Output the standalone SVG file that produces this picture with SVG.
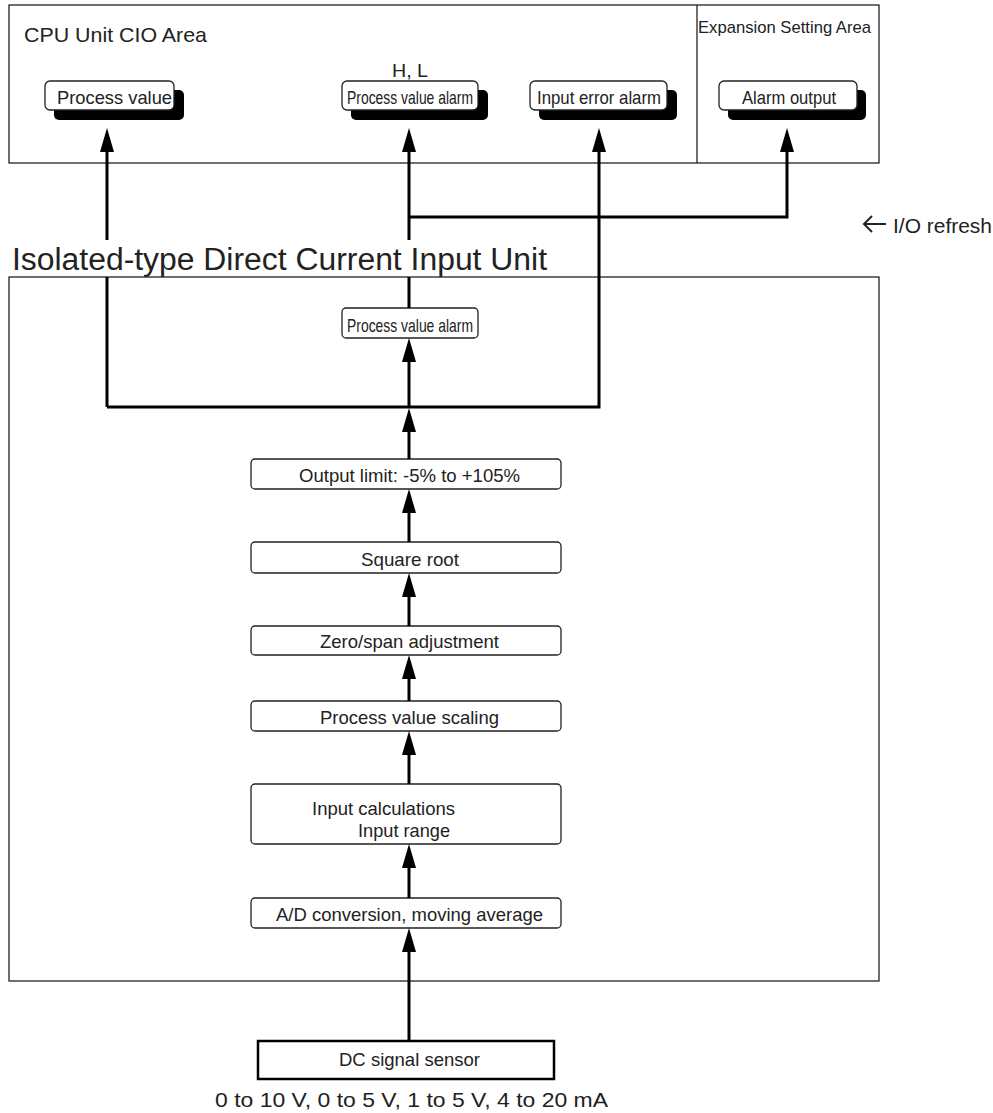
<svg xmlns="http://www.w3.org/2000/svg" width="993" height="1113" viewBox="0 0 993 1113">
<style>
text{font-family:"Liberation Sans",Arial,sans-serif;fill:#222}
.area{fill:none;stroke:#222;stroke-width:1.3}
.box{fill:#fff;stroke:#222;stroke-width:1.3}
.sh{fill:#000}
.ln{fill:none;stroke:#000;stroke-width:3}
.f18{font-size:18.5px}
.mid{text-anchor:middle}
</style>
<defs>
<marker id="ah" viewBox="0 0 24 14" refX="0" refY="7" markerWidth="24" markerHeight="14" markerUnits="userSpaceOnUse" orient="auto">
<path d="M0,0 L24,7 L0,14 z" fill="#000"/>
</marker>
</defs>
<rect width="993" height="1113" fill="#fff"/>
<g id="cpu-area">
<rect class="area" x="9" y="5" width="870" height="158"/>
<line class="area" x1="697" y1="5" x2="697" y2="163"/>
<text x="24" y="42" font-size="21" textLength="183" lengthAdjust="spacingAndGlyphs">CPU Unit CIO Area</text>
<text x="698" y="33" font-size="17" textLength="173" lengthAdjust="spacingAndGlyphs">Expansion Setting Area</text>
<text class="f18" x="392" y="77" textLength="36" lengthAdjust="spacingAndGlyphs">H, L</text>
</g>
<g id="node-pv">
<rect class="sh" x="54" y="90" width="130" height="30" rx="5"/>
<rect class="box" x="45" y="81" width="129" height="29" rx="5"/>
<text class="f18" x="57" y="104" textLength="115" lengthAdjust="spacingAndGlyphs">Process value</text>
</g>
<g id="node-pva-top">
<rect class="sh" x="351" y="90" width="137" height="30" rx="5"/>
<rect class="box" x="342" y="81" width="136" height="29" rx="5"/>
<text class="f18" x="347" y="104" textLength="126" lengthAdjust="spacingAndGlyphs">Process value alarm</text>
</g>
<g id="node-iea">
<rect class="sh" x="539" y="90" width="138" height="30" rx="5"/>
<rect class="box" x="530" y="81" width="137" height="29" rx="5"/>
<text class="f18" x="537" y="104" textLength="124" lengthAdjust="spacingAndGlyphs">Input error alarm</text>
</g>
<g id="node-ao">
<rect class="sh" x="728" y="90" width="138" height="30" rx="5"/>
<rect class="box" x="719" y="81" width="138" height="29" rx="5"/>
<text class="f18" x="742" y="104" textLength="94" lengthAdjust="spacingAndGlyphs">Alarm output</text>
</g>
<g id="io-refresh">
<path d="M886,224 H864 M872,216 L864,224 L872,232" fill="none" stroke="#222" stroke-width="2"/>
<text x="893" y="233" font-size="20" textLength="99" lengthAdjust="spacingAndGlyphs">I/O refresh</text>
</g>
<g id="unit">
<text x="12" y="270" font-size="31" textLength="535" lengthAdjust="spacingAndGlyphs">Isolated-type Direct Current Input Unit</text>
<rect class="area" x="9" y="277" width="870" height="704"/>
</g>
<g id="node-pva-in">
<rect class="box" x="342" y="308" width="136" height="30" rx="4"/>
<text class="f18" x="347" y="332" textLength="126" lengthAdjust="spacingAndGlyphs">Process value alarm</text>
</g>
<g id="node-limit">
<rect class="box" x="251" y="459" width="310" height="30" rx="4"/>
<text class="f18" x="299" y="482" textLength="221" lengthAdjust="spacingAndGlyphs">Output limit: -5% to +105%</text>
</g>
<g id="node-sqrt">
<rect class="box" x="251" y="542" width="310" height="31" rx="4"/>
<text class="f18" x="361" y="566" textLength="98" lengthAdjust="spacingAndGlyphs">Square root</text>
</g>
<g id="node-zero">
<rect class="box" x="251" y="626" width="310" height="29" rx="4"/>
<text class="f18 mid" x="409.5" y="648">Zero/span adjustment</text>
</g>
<g id="node-scale">
<rect class="box" x="251" y="701" width="310" height="30" rx="4"/>
<text class="f18" x="320" y="724" textLength="179" lengthAdjust="spacingAndGlyphs">Process value scaling</text>
</g>
<g id="node-calc">
<rect class="box" x="251" y="784" width="310" height="60" rx="4"/>
<text class="f18" x="312" y="815" textLength="143" lengthAdjust="spacingAndGlyphs">Input calculations</text>
<text class="f18" x="358" y="837" textLength="92" lengthAdjust="spacingAndGlyphs">Input range</text>
</g>
<g id="node-ad">
<rect class="box" x="251" y="898" width="310" height="30" rx="4"/>
<text class="f18" x="276" y="921" textLength="267" lengthAdjust="spacingAndGlyphs">A/D conversion, moving average</text>
</g>
<g id="node-sensor">
<rect x="258" y="1041" width="296" height="38" fill="#fff" stroke="#000" stroke-width="2.5"/>
<text class="f18" x="339" y="1066" textLength="141" lengthAdjust="spacingAndGlyphs">DC signal sensor</text>
<text x="215" y="1107" font-size="21" textLength="393" lengthAdjust="spacingAndGlyphs">0 to 10 V, 0 to 5 V, 1 to 5 V, 4 to 20 mA</text>
</g>
<g id="connectors">
<path class="ln" d="M107,407 V277 M107,240 V152" marker-end="url(#ah)"/>
<path class="ln" d="M409,308 V277 M409,240 V152" marker-end="url(#ah)"/>
<path class="ln" d="M107,407 H599 V152" marker-end="url(#ah)"/>
<path class="ln" d="M409,217 H787 V152" marker-end="url(#ah)"/>
<path class="ln" d="M409,407 V362" marker-end="url(#ah)"/>
<path class="ln" d="M409,459 V432" marker-end="url(#ah)"/>
<path class="ln" d="M409,542 V513" marker-end="url(#ah)"/>
<path class="ln" d="M409,626 V597" marker-end="url(#ah)"/>
<path class="ln" d="M409,701 V679" marker-end="url(#ah)"/>
<path class="ln" d="M409,784 V755" marker-end="url(#ah)"/>
<path class="ln" d="M409,898 V868" marker-end="url(#ah)"/>
<path class="ln" d="M409,1041 V952" marker-end="url(#ah)"/>
</g>
</svg>
